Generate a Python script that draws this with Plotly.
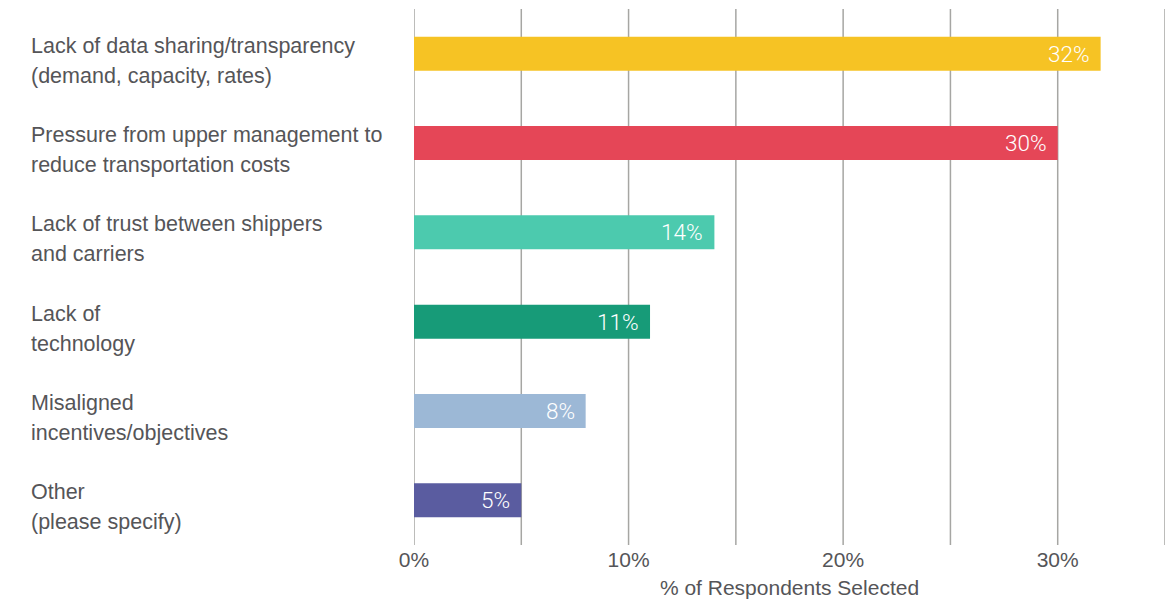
import plotly.graph_objects as go

categories = [
    "Lack of data sharing/transparency<br>(demand, capacity, rates)",
    "Pressure from upper management to<br>reduce transportation costs",
    "Lack of trust between shippers<br>and carriers",
    "Lack of<br>technology",
    "Misaligned<br>incentives/objectives",
    "Other<br>(please specify)",
]
values = [32, 30, 14, 11, 8, 5]
colors = ["#F6C324", "#E54657", "#4CCAAE", "#179B78", "#9CB8D6", "#5A5CA0"]
tick_vals = [0, 10, 20, 30]
tick_text = ["0%", "10%", "20%", "30%"]

FONT = "Liberation Sans, Arial, Helvetica, sans-serif"
LIGHT_FONT = "Roboto, Liberation Sans, Arial, sans-serif"
TEXT_COLOR = "#555558"

fig = go.Figure(
    go.Bar(
        x=values,
        y=categories,
        orientation="h",
        marker=dict(color=colors, line=dict(width=0)),
        hoverinfo="skip",
    )
)

# value labels inside the bar ends
for cat, v in zip(categories, values):
    fig.add_annotation(
        x=v, y=cat, xref="x", yref="y",
        text=f"{v}%", showarrow=False,
        xanchor="right", xshift=-9, yshift=0,
        font=dict(family=LIGHT_FONT, size=22.5, color="white", weight=300),
    )

# two-line category labels, left aligned
for cat in categories:
    lines = cat.split("<br>")
    for i, line in enumerate(lines):
        fig.add_annotation(
            x=-0.513, y=cat, xref="paper", yref="y",
            text=line, showarrow=False,
            xanchor="left", yanchor="middle",
            yshift=8 - 30 * i,
            font=dict(family=FONT, size=21.5, color=TEXT_COLOR),
        )

fig.update_layout(
    width=1169, height=601,
    margin=dict(l=414, r=4, t=9, b=56),
    paper_bgcolor="white", plot_bgcolor="white",
    bargap=0.62,
    showlegend=False,
    xaxis=dict(
        range=[0, 35],
        tickvals=tick_vals, ticktext=tick_text,
        showgrid=False, zeroline=False,
        ticks="", ticklen=0,
        tickfont=dict(family=FONT, size=21, color=TEXT_COLOR),
        title=dict(text="% of Respondents Selected",
                   font=dict(family=FONT, size=21, color=TEXT_COLOR),
                   standoff=10),
        fixedrange=True,
    ),
    yaxis=dict(
        autorange="reversed",
        showticklabels=False, showgrid=False, zeroline=False,
        ticks="",
        fixedrange=True,
    ),
)

# vertical gridlines every 5%
for gx in range(0, 40, 5):
    fig.add_shape(
        type="line", xref="x", yref="paper",
        x0=gx, x1=gx, y0=0, y1=1,
        line=dict(color="#A6A6A3", width=1.5),
        layer="below",
    )

fig.write_html("out.html")
